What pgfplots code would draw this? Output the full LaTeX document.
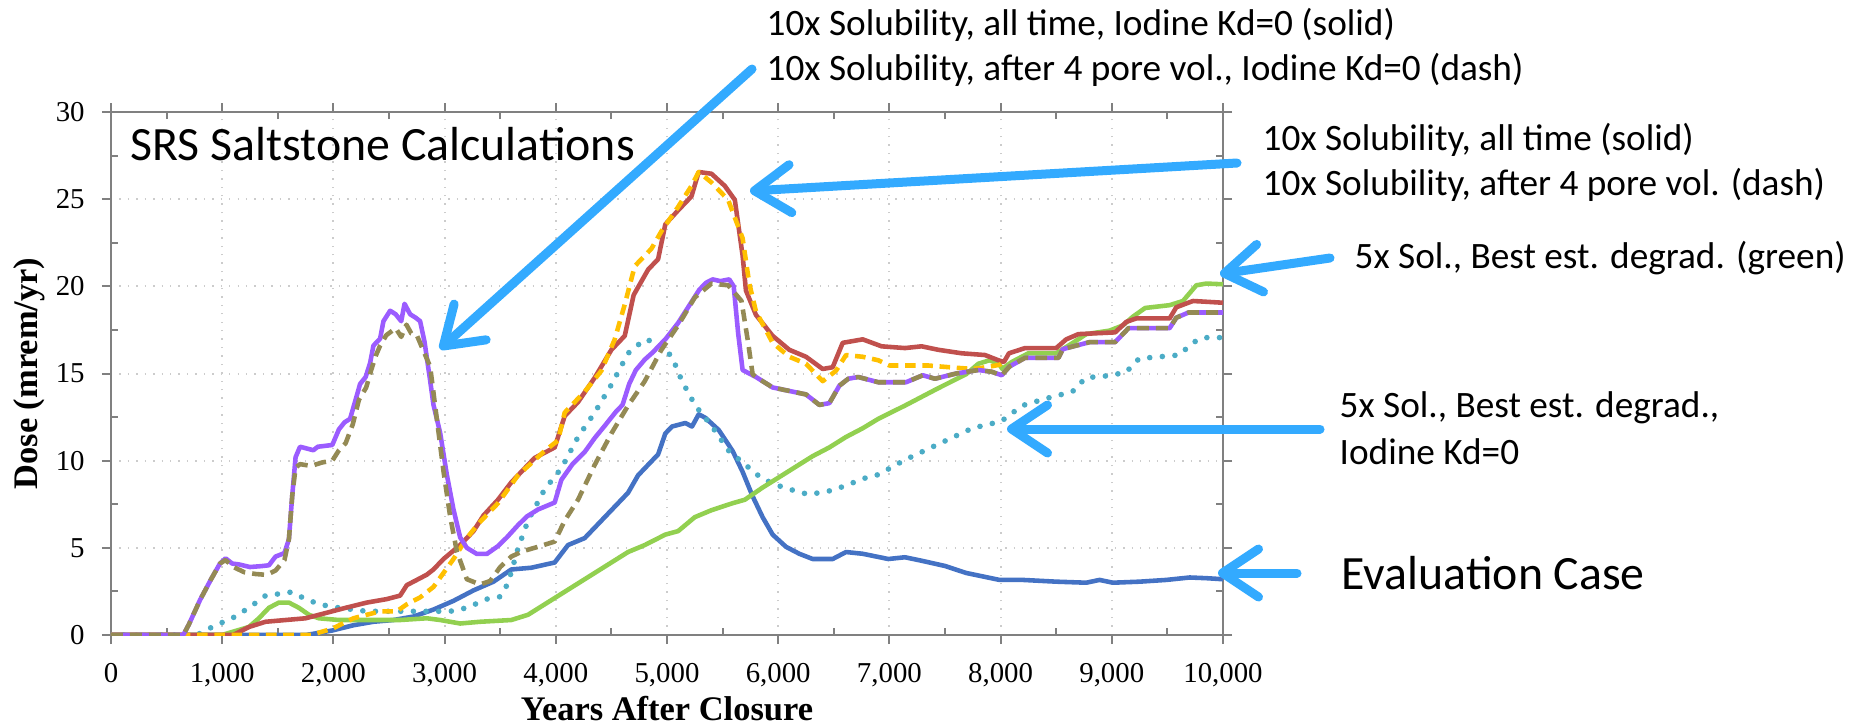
\documentclass[border=0pt]{standalone}
\usepackage{pgfplots}
\pgfplotsset{compat=1.18}
\usepackage{fontspec}
\setmainfont{Liberation Serif}
\newfontfamily\calib{Carlito}
\usetikzlibrary{arrows.meta}

\definecolor{evalblue}{HTML}{4472C4}
\definecolor{tenred}{HTML}{C0504D}
\definecolor{tenorange}{HTML}{FFC000}
\definecolor{kdpurple}{HTML}{9B5CFF}
\definecolor{kdbrown}{HTML}{948A54}
\definecolor{fivegreen}{HTML}{92D050}
\definecolor{fivecyan}{HTML}{4BACC6}
\definecolor{arrowblue}{HTML}{33AAFF}
\definecolor{framegray}{HTML}{808080}

\begin{document}
\begin{tikzpicture}
\useasboundingbox (0,0) rectangle (185.5mm,72.6mm);

\begin{axis}[
    at={(11.1mm,9.1mm)}, anchor=south west,
    scale only axis,
    width=111.2mm, height=52.3mm,
    xmin=0, xmax=10000, ymin=0, ymax=30,
    xtick={0,1000,...,10000},
    ytick={0,5,...,30},
    minor x tick num=1, minor y tick num=1,
    tick align=outside,
    major tick length=0.9mm, minor tick length=-0.7mm,
    tick style={draw=framegray, line width=0.2mm},
    axis line style={draw=framegray, line width=0.25mm},
    grid=major,
    grid style={dotted, draw=black!20, line width=0.2mm},
    /pgf/number format/assume math mode=true,
    /pgf/number format/1000 sep={,},
    scaled x ticks=false,
    ticklabel style={font=\fontsize{8.2}{9.8}\selectfont},
    yticklabel style={xshift=-0.5mm},
    xticklabel style={yshift=-0.65mm},
    xlabel={Years After Closure},
    ylabel={Dose (mrem/yr)},
    every axis x label/.style={at={(axis description cs:0.5,-0.14)}, anchor=center,
        font=\bfseries\fontsize{9.8}{11}\selectfont},
    every axis y label/.style={at={(axis description cs:-0.0737,0.5)}, rotate=90, anchor=center,
        font=\bfseries\fontsize{9.8}{11}\selectfont},
    every axis plot/.append style={line width=1.3pt, line join=round},
]

% Evaluation Case
\addplot[evalblue] coordinates {
(0,0) (1750,0) (1810,0.06) (1990,0.26) (2180,0.56) (2360,0.76) (2540,0.86) (2720,1.06)
(2900,1.46) (3080,1.96) (3260,2.56) (3440,3.06) (3600,3.76) (3780,3.86) (3990,4.16)
(4110,5.16) (4260,5.56) (4350,6.16) (4500,7.16) (4650,8.16) (4740,9.16) (4920,10.36)
(4985,11.56) (5045,11.96) (5165,12.16) (5225,11.96) (5285,12.66) (5345,12.46) (5465,11.76)
(5590,10.56) (5680,9.36) (5770,7.96) (5860,6.76) (5950,5.76) (6070,5.06) (6190,4.66)
(6310,4.36) (6490,4.36) (6610,4.76) (6760,4.66) (6990,4.36) (7140,4.46) (7290,4.26)
(7500,3.96) (7690,3.56) (7840,3.36) (7990,3.16) (8200,3.16) (8500,3.06) (8770,3.0)
(8890,3.16) (9010,3.0) (9250,3.06) (9490,3.16) (9700,3.3) (9850,3.26) (10000,3.2)
};

% 5x Sol., Best est. degrad., Iodine Kd=0
\addplot[fivecyan, line width=1.6pt, line cap=round, dash pattern=on 0pt off 3.6pt] coordinates {
(0,0) (700,0) (790,0.06) (940,0.56) (1090,0.96) (1240,1.56) (1390,2.26) (1510,2.36)
(1620,2.46) (1720,2.16) (1870,1.76) (2050,1.56) (2300,1.36) (3050,1.36) (3200,1.56)
(3380,2.06) (3500,2.2) (3570,2.96) (3660,4.96) (3750,6.56) (3900,8.36) (4050,9.56)
(4200,11.36) (4350,12.76) (4500,14.36) (4650,16.16) (4800,16.96) (4920,16.76) (5045,15.96)
(5135,14.56) (5255,13.16) (5405,11.96) (5556,10.56) (5706,9.76) (5856,8.96) (6006,8.56)
(6156,8.26) (6276,8.06) (6456,8.26) (6607,8.56) (6757,8.96) (6900,9.2) (7144,10.06)
(7444,10.96) (7745,11.86) (8006,12.26) (8195,13.16) (8405,13.56) (8646,13.96) (8766,14.76)
(8946,14.86) (9126,15.06) (9246,15.86) (9426,15.96) (9607,16.06) (9727,16.76) (9817,17.06)
(10000,17.06)
};

% 5x Sol., Best est. degrad. (green)
\addplot[fivegreen] coordinates {
(0,0) (1000,0) (1050,0.1) (1240,0.46) (1330,0.96) (1420,1.56) (1510,1.86) (1600,1.86)
(1690,1.56) (1780,1.16) (1870,0.96) (2050,0.86) (2600,0.86) (2840,0.96) (2960,0.86)
(3140,0.66) (3320,0.76) (3600,0.86) (3750,1.16) (3900,1.76) (4050,2.36) (4200,2.96)
(4350,3.56) (4500,4.16) (4650,4.76) (4800,5.16) (4985,5.76) (5100,5.96) (5250,6.76)
(5400,7.16) (5590,7.56) (5700,7.76) (5860,8.46) (6010,9.06) (6160,9.66) (6310,10.26)
(6460,10.76) (6610,11.36) (6760,11.86) (6900,12.4) (7140,13.16) (7440,14.16) (7690,14.96)
(7800,15.56) (7900,15.76) (7985,15.56) (8015,15.26) (8100,15.66) (8250,16.16) (8500,16.16)
(8650,16.76) (8770,17.26) (8980,17.46) (9100,17.76) (9190,18.26) (9300,18.76) (9520,18.92)
(9640,19.16) (9760,20.06) (9850,20.16) (10000,20.12)
};

% 10x Solubility, all time (solid)
\addplot[tenred] coordinates {
(0,0) (1100,0) (1160,0.2) (1240,0.46) (1390,0.76) (1570,0.86) (1750,0.96) (1930,1.26)
(2110,1.56) (2300,1.86) (2480,2.06) (2600,2.26) (2660,2.86) (2840,3.46) (2900,3.76)
(2990,4.36) (3140,5.16) (3260,5.96) (3350,6.86) (3480,7.76) (3600,8.76) (3690,9.36)
(3810,10.16) (3990,10.76) (4080,12.56) (4200,13.36) (4350,14.76) (4500,16.36) (4620,17.16)
(4700,19.5) (4830,20.96) (4920,21.56) (4985,23.56) (5100,24.36) (5220,25.16) (5285,26.56)
(5400,26.46) (5520,25.76) (5610,24.96) (5680,21.76) (5710,19.76) (5800,18.36) (5950,17.16)
(6100,16.36) (6250,15.96) (6400,15.26) (6490,15.36) (6580,16.76) (6760,16.96) (6930,16.56)
(7140,16.46) (7290,16.56) (7440,16.36) (7650,16.16) (7860,16.06) (7980,15.76) (8030,15.66)
(8075,16.16) (8220,16.46) (8500,16.46) (8590,16.96) (8700,17.26) (9030,17.36) (9130,17.96)
(9220,18.16) (9520,18.16) (9580,18.8) (9730,19.16) (10000,19.06)
};

% 10x Solubility, after 4 pore vol. (dash)
\addplot[tenorange, dash pattern=on 3pt off 1.9pt] coordinates {
(0,0) (1800,0) (1850,0.1) (1990,0.36) (2180,0.96) (2300,1.16) (2420,1.36) (2570,1.36)
(2660,1.76) (2780,2.16) (2900,2.76) (2990,3.56) (3080,4.36) (3200,5.56) (3300,6.36)
(3480,7.56) (3660,9.16) (3900,10.56) (4020,11.16) (4080,12.76) (4260,13.96) (4410,15.16)
(4530,16.96) (4620,18.96) (4710,21.16) (4860,22.16) (4950,23.16) (5100,24.56) (5220,25.76)
(5285,26.56) (5400,25.96) (5550,24.96) (5680,22.76) (5740,20.16) (5800,18.56) (5950,16.76)
(6100,15.96) (6250,15.56) (6400,14.56) (6520,15.16) (6610,16.06) (6760,15.96) (6900,15.76)
(7000,15.46) (7350,15.46) (7540,15.36) (7750,15.26) (7870,15.36) (7990,15.5) (8030,15.66)
};

% 10x Solubility, all time, Iodine Kd=0 (solid)
\addplot[kdpurple] coordinates {
(0,0) (650,0) (700,0.6) (800,2.0) (900,3.2) (980,4.1) (1030,4.4) (1090,4.1) (1150,4.05)
(1250,3.9) (1350,3.95) (1420,4.0) (1480,4.5) (1560,4.7) (1600,5.5) (1630,8.0) (1660,10.2)
(1700,10.8) (1760,10.7) (1820,10.6) (1860,10.8) (1990,10.9) (2050,11.8) (2100,12.2)
(2150,12.4) (2200,13.5) (2240,14.4) (2290,14.8) (2330,15.6) (2360,16.6) (2420,17.0)
(2450,18.0) (2510,18.6) (2560,18.4) (2610,18.0) (2640,19.0) (2690,18.4) (2740,18.2)
(2780,18.0) (2820,16.8) (2870,14.6) (2900,13.2) (2960,11.6) (3020,9.2) (3080,7.2)
(3140,5.6) (3200,5.0) (3290,4.65) (3380,4.65) (3480,5.1) (3560,5.6) (3660,6.3) (3740,6.8)
(3840,7.2) (3990,7.6) (4050,8.9) (4150,9.8) (4260,10.5) (4350,11.3) (4440,12.0) (4540,12.8)
(4600,13.2) (4660,14.4) (4720,15.2) (4800,15.8) (4870,16.2) (4990,17.0) (5100,17.9)
(5220,19.1) (5290,19.8) (5350,20.2) (5410,20.4) (5480,20.3) (5560,20.4) (5600,20.0)
(5640,17.3) (5680,15.2) (5800,14.8) (5950,14.2) (6100,14.0) (6250,13.8) (6370,13.2)
(6460,13.3) (6550,14.3) (6630,14.7) (6720,14.8) (6900,14.5) (7150,14.5) (7300,14.9)
(7410,14.7) (7600,15.0) (7800,15.2) (7920,15.1) (8010,14.9) (8080,15.4) (8220,15.9)
(8520,15.9) (8560,16.4) (8800,16.8) (9030,16.8) (9150,17.6) (9520,17.6) (9580,18.2)
(9690,18.5) (10000,18.5)
};

% 10x Solubility, after 4 pore vol., Iodine Kd=0 (dash)
\addplot[kdbrown, dash pattern=on 3.4pt off 2pt] coordinates {
(0,0) (650,0) (700,0.6) (800,2.0) (900,3.2) (980,4.1) (1030,4.3) (1100,3.9) (1200,3.6)
(1300,3.5) (1400,3.45) (1480,3.7) (1560,4.3) (1600,5.5) (1630,8.0) (1660,9.6) (1700,9.8)
(1800,9.7) (1900,9.9) (1990,10.0) (2050,10.6) (2110,11.0) (2175,12.1) (2230,13.5)
(2295,14.2) (2340,15.2) (2380,16.0) (2420,16.6) (2476,17.2) (2560,17.6) (2610,17.1)
(2657,17.8) (2700,17.3) (2750,17.2) (2790,16.6) (2830,16.0) (2870,15.4) (2930,12.4)
(2990,9.4) (3050,6.8) (3110,4.8) (3200,3.2) (3320,2.9) (3410,3.1) (3500,3.9) (3600,4.5)
(3700,4.8) (3840,5.06) (3990,5.36) (4080,6.56) (4200,7.76) (4350,9.76) (4500,11.56)
(4650,13.16) (4800,14.56) (4950,16.36) (5100,17.76) (5250,19.36) (5400,20.16) (5550,20.06)
(5670,19.16) (5730,16.76) (5770,14.96) (5800,14.8) (5950,14.2) (6100,14.0) (6250,13.8)
(6370,13.2) (6460,13.3) (6550,14.3) (6630,14.7) (6720,14.8) (6900,14.5) (7150,14.5)
(7300,14.9) (7410,14.7) (7600,15.0) (7800,15.2) (7920,15.1) (8010,14.9) (8080,15.4)
(8220,15.9) (8520,15.9) (8560,16.4) (8800,16.8) (9030,16.8) (9150,17.6) (9520,17.6)
(9580,18.2) (9690,18.5) (10000,18.5)
};
\end{axis}

% annotations, in pixels of the reference (y downwards)
\begin{scope}[shift={(0,72.6mm)}, x=0.1mm, y=-0.1mm]
\tikzset{callout/.style={draw=arrowblue, line width=0.9mm, line cap=round,
    -{Straight Barb[length=3.6mm,width=4.8mm,round]}},
    note/.style={anchor=west, inner sep=0pt, font=\calib\fontsize{10.6}{12}\selectfont},
    bignote/.style={anchor=west, inner sep=0pt, font=\calib\fontsize{13.6}{16}\selectfont}}
\draw[callout] (752,69) -- (440,349);
\draw[callout] (1237,163) -- (750,191);
\draw[callout] (1330,258) -- (1220,274);
\draw[callout] (1320,429) -- (1007,429);
\draw[callout] (1297,573) -- (1218,573);

\node[bignote] at (130,144) {SRS Saltstone Calculations};
\node[note] at (766,25) {10x Solubility, all time, Iodine Kd=0 (solid)};
\node[note] at (766,70) {10x Solubility, after 4 pore vol., Iodine Kd=0 (dash)};
\node[note] at (1262,140) {10x Solubility, all time (solid)};
\node[note] at (1262,185) {10x Solubility, after 4 pore vol. (dash)};
\node[note] at (1354,258) {5x Sol., Best est. degrad. (green)};
\node[note] at (1339,408) {5x Sol., Best est. degrad.,};
\node[note] at (1339,452) {Iodine Kd=0};
\node[bignote] at (1341,573) {Evaluation Case};
\end{scope}
\end{tikzpicture}
\end{document}
